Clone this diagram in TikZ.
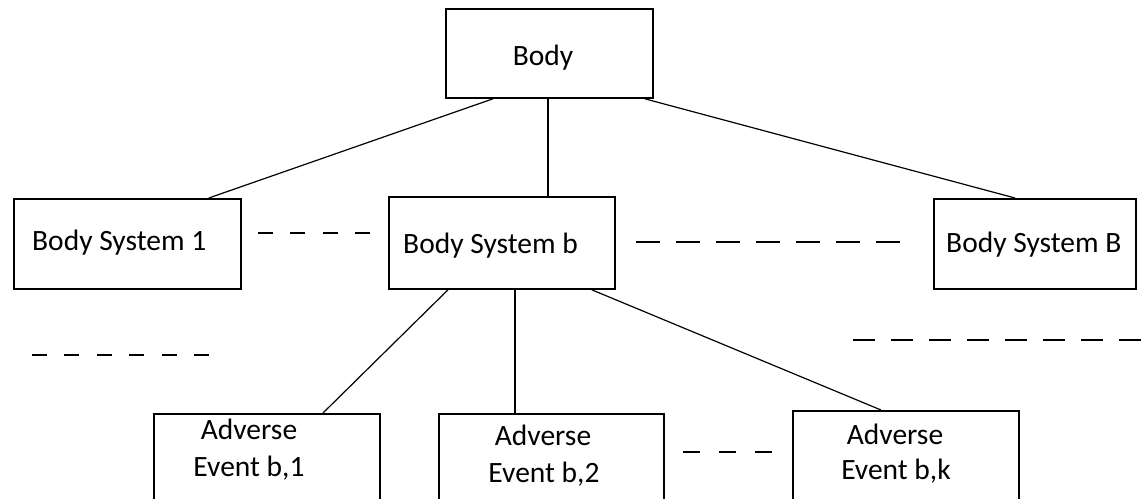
\documentclass[tikz,border=0pt]{standalone}
\usepackage{fontspec}
\setmainfont{Carlito}
\usetikzlibrary{calc}
\begin{document}
\begin{tikzpicture}[x=1pt,y=-1pt,
  box/.style={draw=black,line width=1.8pt,rectangle,inner sep=0pt,anchor=north west},
  lbl/.style={inner sep=0pt,font=\fontsize{29.5}{37}\selectfont,text=black},
  conn/.style={draw=black,line width=1.2pt},
  dsh/.style={draw=black,line width=1.8pt}]
\useasboundingbox[fill=white] (0,0) rectangle (1143,498);
% boxes
\node[box,minimum width=207pt,minimum height=89pt] (body) at (445,8) {};
\node[box,minimum width=227pt,minimum height=90pt] (bs1) at (13,198) {};
\node[box,minimum width=226pt,minimum height=92pt] (bsb) at (388,196) {};
\node[box,minimum width=202pt,minimum height=90pt] (bsB) at (933,198) {};
\node[box,minimum width=226pt,minimum height=110pt] (ae1) at (153,413) {};
\node[box,minimum width=225pt,minimum height=110pt] (ae2) at (438,413) {};
\node[box,minimum width=226pt,minimum height=110pt] (aek) at (792,410) {};
% labels
\node[lbl,anchor=base] (tbody) at (543,65) {Body};
\node[lbl,anchor=base west] (tbs1) at (32,250) {Body System 1};
\node[lbl,anchor=base west] (tbsb) at (403,253) {Body System b};
\node[lbl,anchor=base west] (tbsB) at (946,252) {Body System B};
\node[lbl,anchor=base] (tae1a) at (249,439) {Adverse};
\node[lbl,anchor=base] (tae1b) at (249,476) {Event b,1};
\node[lbl,anchor=base] (tae2a) at (543,445) {Adverse};
\node[lbl,anchor=base] (tae2b) at (544,482) {Event b,2};
\node[lbl,anchor=base] (taeka) at (895,444) {Adverse};
\node[lbl,anchor=base] (taekb) at (896,479) {Event b,k};
% connectors
\draw[conn] ([xshift=48pt]body.south west) -- ([xshift=-33pt]bs1.north east);
\draw[conn] ([xshift=-1.5pt]body.south) -- ([xshift=-1.5pt]body.south |- bsb.north);
\draw[conn] ([xshift=-9pt]body.south east) -- ([xshift=82pt]bsB.north west);
\draw[conn] ([xshift=60pt]bsb.south west) -- ([xshift=170pt]ae1.north west);
\draw[conn] ([xshift=127pt]bsb.south west) -- ([xshift=77pt]ae2.north west);
\draw[conn] ([xshift=-24pt]bsb.south east) -- ([xshift=89pt]aek.north west);
% dashed continuation lines
\coordinate (d1a) at (258,233); \coordinate (d1b) at (370,233);
\draw[dsh,dash pattern=on 15pt off 17.3pt] (d1a) -- (d1b);
\coordinate (d2a) at (636,242); \coordinate (d2b) at (900,242);
\draw[dsh,dash pattern=on 24pt off 16pt] (d2a) -- (d2b);
\coordinate (d3a) at (32,355); \coordinate (d3b) at (209,355);
\draw[dsh,dash pattern=on 15pt off 17.4pt] (d3a) -- (d3b);
\coordinate (d4a) at (853,340); \coordinate (d4b) at (1143,340);
\draw[dsh,dash pattern=on 22pt off 16pt] (d4a) -- (d4b);
\coordinate (d5a) at (683,452); \coordinate (d5b) at (772,452);
\draw[dsh,dash pattern=on 17pt off 19pt] (d5a) -- (d5b);
\end{tikzpicture}
\end{document}
